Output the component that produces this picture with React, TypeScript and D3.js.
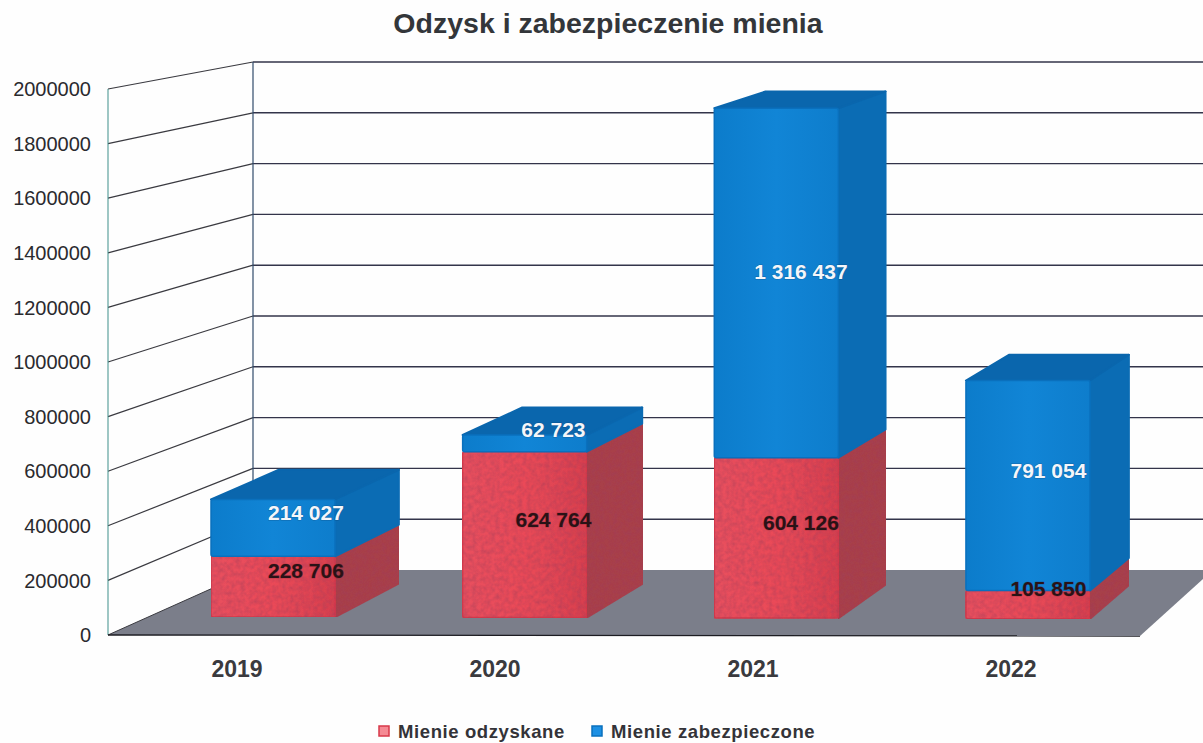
import React from 'react';
import * as d3 from 'd3';

const categories = ['2019', '2020', '2021', '2022'];
const recovered = [228706, 624764, 604126, 105850];
const secured = [214027, 62723, 1316437, 791054];
const recoveredLabels = ['228 706', '624 764', '604 126', '105 850'];
const securedLabels = ['214 027', '62 723', '1 316 437', '791 054'];
const yTicks = d3.range(0, 2000001, 200000);

const W = 1203;
const H = 743;
const FONT = '"Liberation Sans", Arial, sans-serif';

// front plane of the frame, and the back wall it recedes to
const yFront = d3.scaleLinear().domain([0, 2000000]).range([635, 89]);
const yBack = d3.scaleLinear().domain([0, 2000000]).range([570, 62]);
const xFrontL = 108;
const xBackL = 253;
const xFrontR = 1140;

// bars stand a bit inside the floor, so they get their own scale
const yBar = d3.scaleLinear().domain([0, 2000000]).range([617, 86]);
const xBar = d3.scaleBand().domain(categories).range([211, 1090]).paddingInner(0.507).paddingOuter(0);
const xCat = d3.scaleBand().domain(categories).range([xFrontL, xFrontR]);

// vanishing point for bar depth
const VX = 2268;
const VY = -400;
const DEPTH = 0.033;
const sag = (x: number) => (x - 211) * 0.0022; // scanned page is a little skewed

const project = (x: number, y: number, d = 1): [number, number] => {
  const s = 1 - DEPTH * d;
  return [VX + (x - VX) * s, VY + (y - VY) * s];
};

const poly = (pts: [number, number][]) => d3.line()(pts) + 'Z';

type Seg = { key: string; x0: number; x1: number; top: number; bottom: number; kind: 'red' | 'blue'; label: string };

const segments: Seg[] = categories.flatMap((c, i) => {
  const x0 = xBar(c) as number;
  const x1 = x0 + xBar.bandwidth();
  const s = sag(x0);
  const a = yBar(0) + s;
  const b = yBar(recovered[i]) + s;
  const t = yBar(recovered[i] + secured[i]) + s;
  return [
    { key: c + 'r', x0, x1, top: b, bottom: a, kind: 'red' as const, label: recoveredLabels[i] },
    { key: c + 'b', x0, x1, top: t, bottom: b, kind: 'blue' as const, label: securedLabels[i] },
  ];
});

const palette = {
  red: { front: 'url(#redFront)', side: '#a8404a', top: '#b8444e', edge: '#d8384a' },
  blue: { front: 'url(#blueFront)', side: '#0b6cb4', top: '#0a66ad', edge: '#0a70bd' },
};

function Bar({ s }: { s: Seg }) {
  const p = palette[s.kind];
  const side = poly([[s.x1, s.bottom], [s.x1, s.top], project(s.x1, s.top), project(s.x1, s.bottom)]);
  const top = poly([[s.x0, s.top], [s.x1, s.top], project(s.x1, s.top), project(s.x0, s.top)]);
  const filter = s.kind === 'red' ? 'url(#mottle)' : undefined;
  return (
    <g strokeLinejoin="round">
      <path d={side} fill={p.side} stroke={p.side} strokeWidth={2} filter={filter} />
      {s.kind === 'blue' && <path d={top} fill={p.top} stroke={p.top} strokeWidth={2} />}
      <rect x={s.x0} y={s.top} width={s.x1 - s.x0} height={s.bottom - s.top} rx={2} fill={p.front} stroke={p.edge} strokeWidth={1.5} filter={filter} />
    </g>
  );
}

function BarLabel({ s }: { s: Seg }) {
  const midX = (s.x0 + s.x1) / 2;
  const midY = (s.top + s.bottom) / 2;
  const [x, y] = project(midX, midY, 0.5);
  const white = s.kind === 'blue';
  return (
    <text
      x={x}
      y={y}
      dy="0.36em"
      textAnchor="middle"
      fontFamily={FONT}
      fontWeight="bold"
      fontSize={21}
      fill={white ? '#f4f6fa' : '#2a1216'}
      stroke={white ? 'rgba(10,50,90,0.35)' : 'rgba(60,10,20,0.25)'}
      strokeWidth={1}
      paintOrder="stroke"
    >
      {s.label}
    </text>
  );
}

export default function App() {
  return (
    <svg width={W} height={H} viewBox={`0 0 ${W} ${H}`} style={{ position: 'absolute', left: 0, top: 0, display: 'block', background: '#fefefe' }}>
      <defs>
        <linearGradient id="redFront" x1="0" x2="1" y1="0" y2="0">
          <stop offset="0" stopColor="#e8505e" />
          <stop offset="0.5" stopColor="#ea4a58" />
          <stop offset="1" stopColor="#d8404e" />
        </linearGradient>
        <linearGradient id="blueFront" x1="0" x2="1" y1="0" y2="0">
          <stop offset="0" stopColor="#0c7ccb" />
          <stop offset="0.5" stopColor="#1185d6" />
          <stop offset="1" stopColor="#0e7dcc" />
        </linearGradient>
        <filter id="mottle" x="0" y="0" width="100%" height="100%">
          <feTurbulence type="fractalNoise" baseFrequency="0.22" numOctaves="2" seed="4" result="n" />
          <feColorMatrix in="n" type="matrix" values="0 0 0 0 0.35  0 0 0 0 0.05  0 0 0 0 0.1  0.9 0 0 0 -0.28" result="spots" />
          <feComposite in="spots" in2="SourceGraphic" operator="in" result="clipped" />
          <feMerge>
            <feMergeNode in="SourceGraphic" />
            <feMergeNode in="clipped" />
          </feMerge>
        </filter>
      </defs>

      <text x={608} y={33} textAnchor="middle" fontFamily={FONT} fontWeight="bold" fontSize={28.5} fill="#33363a">
        Odzysk i zabezpieczenie mienia
      </text>

      {/* floor */}
      <path
        d={poly([[xFrontL, yFront(0)], [xBackL, yBack(0)], [W + 10, yBack(0)], [xFrontR, yFront(0) + 1]])}
        fill="#7b7e8a"
      />

      {/* walls */}
      {yTicks.map((t) => (
        <g key={t} fill="none">
          {t > 0 && <line x1={xFrontL} x2={xBackL} y1={yFront(t)} y2={yBack(t)} stroke="#3a3a40" strokeWidth={1.2} />}
          {t > 0 && <line x1={xBackL} x2={W} y1={yBack(t)} y2={yBack(t)} stroke="#33344a" strokeWidth={1.4} />}
          <text
            x={91}
            y={yFront(t)}
            dy="0.36em"
            textAnchor="end"
            fontFamily={FONT}
            fontSize={20}
            fill="#2a2a2e"
          >
            {t}
          </text>
        </g>
      ))}
      <line x1={xFrontL} x2={xFrontL} y1={yFront(2000000)} y2={yFront(0)} stroke="#3f8f8a" strokeWidth={1} />
      <line x1={xBackL} x2={xBackL} y1={yBack(2000000)} y2={yBack(0)} stroke="#2f4a6a" strokeWidth={1.2} />
      <line x1={xFrontL} x2={xBackL} y1={yFront(0)} y2={yBack(0)} stroke="#3a3a40" strokeWidth={1} />
      <line x1={xFrontL} x2={xFrontR} y1={yFront(0)} y2={yFront(0) + 1} stroke="#1c1c22" strokeWidth={1.4} />

      {segments.map((s) => (
        <Bar key={s.key} s={s} />
      ))}
      {segments.map((s) => (
        <BarLabel key={s.key} s={s} />
      ))}

      {categories.map((c) => (
        <text
          key={c}
          x={(xCat(c) as number) + xCat.bandwidth() / 2}
          y={677}
          textAnchor="middle"
          fontFamily={FONT}
          fontWeight="bold"
          fontSize={23}
          fill="#3a3a3e"
        >
          {c}
        </text>
      ))}

      {/* legend */}
      <rect x={379} y={726} width={10} height={10} fill="#f58a94" stroke="#d8384a" strokeWidth={1.5} />
      <text x={398} y={738} fontFamily={FONT} fontWeight="bold" fontSize={18.5} letterSpacing={0.6} fill="#333338">
        Mienie odzyskane
      </text>
      <rect x={592} y={726} width={10} height={10} fill="#1c90e4" stroke="#0a70bd" strokeWidth={1.5} />
      <text x={611} y={738} fontFamily={FONT} fontWeight="bold" fontSize={18.5} letterSpacing={0.6} fill="#333338">
        Mienie zabezpieczone
      </text>
    </svg>
  );
}
